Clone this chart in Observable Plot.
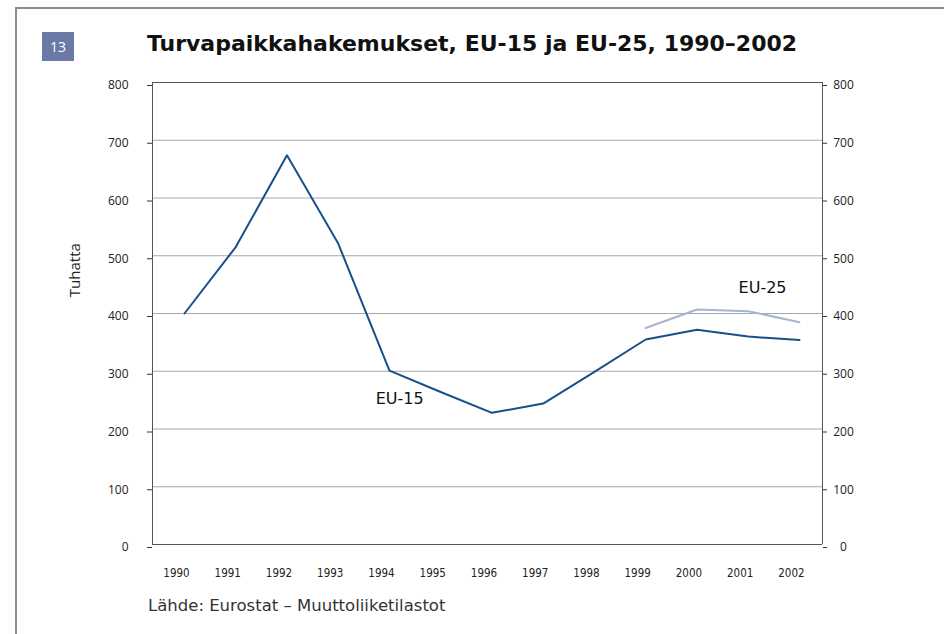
<!DOCTYPE html>
<html>
<head>
<meta charset="utf-8">
<script src="https://cdn.jsdelivr.net/npm/d3@7"></script>
<script src="https://cdn.jsdelivr.net/npm/@observablehq/plot@0.6"></script>
<style>
  html, body { margin: 0; padding: 0; background: #fff; overflow: hidden; }
  #wrap { position: relative; width: 944px; height: 634px; overflow: hidden; }
  #vline { position: absolute; left: 15px; top: 7px; width: 2px; height: 627px; background: #8c8c8c; }
  #hline { position: absolute; left: 15px; top: 7px; width: 929px; height: 2px; background: #8c8c8c; }
  #badge { position: absolute; left: 42px; top: 32px; width: 32px; height: 29px;
           background: #6b79a6; color: #fff; font: 14px "Open Sans", sans-serif;
           display: flex; align-items: center; justify-content: center; }
  #title { position: absolute; left: 0; width: 944px; top: 31px; text-align: center;
           font: bold 22px "DejaVu Sans", Verdana, sans-serif; color: #111; }
  #chart { position: absolute; left: 0; top: 70px; }
  #caption { position: absolute; left: 148px; top: 596px;
             font: 16.5px "DejaVu Sans", Verdana, sans-serif; color: #333; }
</style>
</head>
<body>
<div id="wrap">
  <div id="vline"></div>
  <div id="hline"></div>
  <div id="badge">13</div>
  <div id="title">Turvapaikkahakemukset, EU-15 ja EU-25, 1990–2002</div>
  <div id="chart"></div>
  <div id="caption">Lähde: Eurostat – Muuttoliiketilastot</div>
</div>
<script>
// Data (thousands of asylum applications)
const years = [1990, 1991, 1992, 1993, 1994, 1995, 1996, 1997, 1998, 1999, 2000, 2001, 2002];
const eu15 = [400, 515, 674, 521, 301, 264, 228, 244, 299, 355, 372, 360, 354];
const eu25Years = [1999, 2000, 2001, 2002];
const eu25 = [375, 407, 404, 385];
const yTicks = [0, 100, 200, 300, 400, 500, 600, 700, 800];
const seriesLabels = [
  {name: "EU-15", year: 1994.2, value: 253},
  {name: "EU-25", year: 2001.28, value: 445}
];

const eu15Data = years.map((y, i) => ({year: y, value: eu15[i]}));
const eu25Data = eu25Years.map((y, i) => ({year: y, value: eu25[i]}));

const xDomain = [1989.376, 2002.45];

const chart = Plot.plot({
  width: 944,
  height: 520,
  marginTop: 12,
  marginBottom: 46,
  marginLeft: 152,
  marginRight: 122,
  x: {domain: xDomain},
  y: {domain: [0, 800]},
  style: {fontFamily: "'Open Sans', sans-serif", color: "#333", overflow: "visible"},
  marks: [
    Plot.ruleY(yTicks.filter(d => d > 0 && d < 800), {stroke: "#a8a8a8", strokeWidth: 1}),
    Plot.ruleY([0, 800], {stroke: "#555", strokeWidth: 1}),
    Plot.ruleX([xDomain[0]], {stroke: "#555", strokeWidth: 1}),
    Plot.ruleX([xDomain[1]], {stroke: "#555", strokeWidth: 1}),
    Plot.axisY({anchor: "left", ticks: yTicks, tickSize: 5, tickPadding: 19, label: null,
                fontSize: 12, dy: 3, stroke: "#333", fill: "#222"}),
    Plot.axisY({anchor: "right", ticks: yTicks, tickSize: 4, tickPadding: 17, label: null,
                textAnchor: "middle", fontSize: 12, dy: 3, stroke: "#333", fill: "#222"}),
    Plot.axisX({ticks: years, tickSize: 0, tickPadding: 24, tickFormat: d => String(d),
                label: null, dx: -8, fontSize: 11.5,
                fontFamily: "'Liberation Sans Narrow', 'DejaVu Sans Condensed', sans-serif",
                fill: "#222"}),
    Plot.text(["Tuhatta"], {x: xDomain[0], y: 475, dx: -77, rotate: -90,
                            fontSize: 15, fill: "#222", textAnchor: "middle"}),
    Plot.line(eu15Data, {x: "year", y: "value", stroke: "#17508a", strokeWidth: 2}),
    Plot.line(eu25Data, {x: "year", y: "value", stroke: "#a6b4d2", strokeWidth: 2}),
    Plot.text(seriesLabels, {x: "year", y: "value", text: "name", fontSize: 16,
                             fontFamily: "'DejaVu Sans', Verdana, sans-serif", fill: "#111"})
  ]
});
document.getElementById("chart").appendChild(chart);
</script>
</body>
</html>
